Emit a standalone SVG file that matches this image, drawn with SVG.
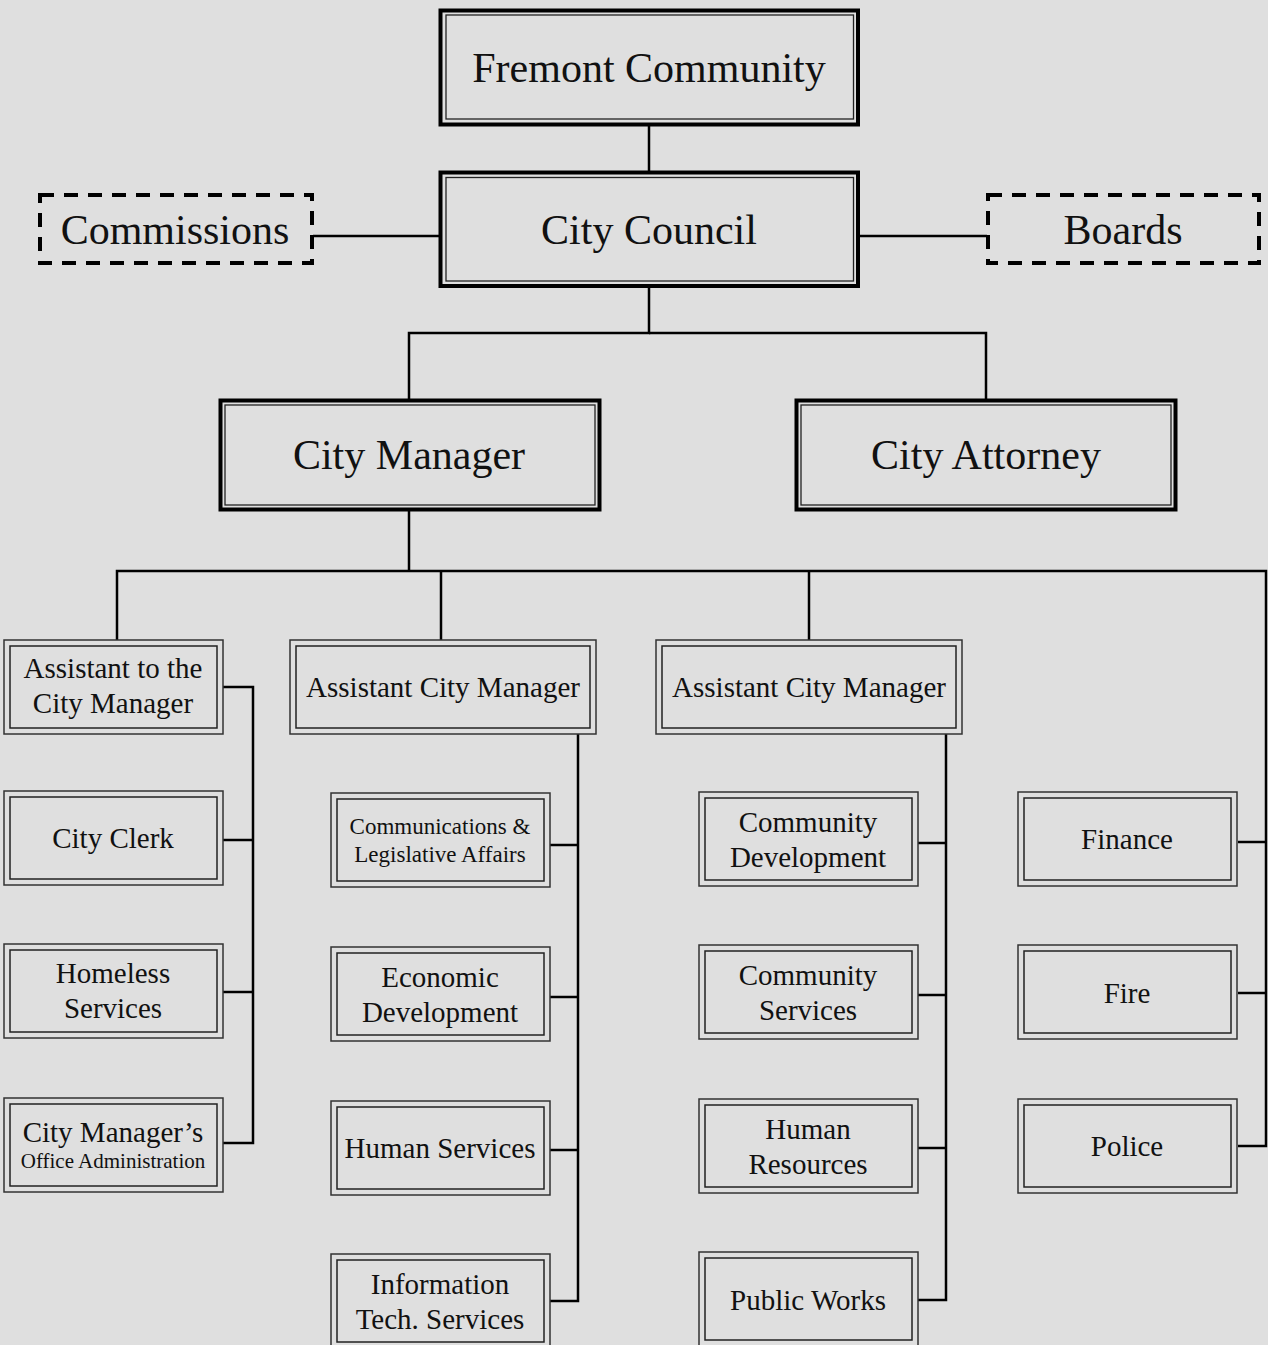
<svg xmlns="http://www.w3.org/2000/svg" width="1268" height="1345" viewBox="0 0 1268 1345">
<style>
.bg{fill:#dfdfdf}
.bo{fill:none;stroke:#000;stroke-width:4}
.bi{fill:none;stroke:#222;stroke-width:1.3}
.so{fill:#dfdfdf;stroke:#333;stroke-width:1.5}
.si{fill:none;stroke:#222;stroke-width:1.5}
.dash{fill:none;stroke:#000;stroke-width:4;stroke-dasharray:14 10}
.c{fill:none;stroke:#000;stroke-width:2.5}
text{fill:#111;text-anchor:middle}
.t42{font-size:42px}
.t29{font-size:29px}
.t23{font-size:23px}
.t21{font-size:21px}
</style>
<rect class="bg" x="0" y="0" width="1268" height="1345"/>
<g id="connectors">
<path class="c" d="M649 125V172"/>
<path class="c" d="M313 236H440"/>
<path class="c" d="M858 236H987"/>
<path class="c" d="M649 288V333H409V400"/>
<path class="c" d="M649 333H986V400"/>
<path class="c" d="M409 511V571"/>
<path class="c" d="M117 640V571H1266V1146H1238"/>
<path class="c" d="M441 571V640"/>
<path class="c" d="M809 571V640"/>
<path class="c" d="M1238 842H1266"/>
<path class="c" d="M1238 993H1266"/>
<path class="c" d="M223 687H253V1143H223"/>
<path class="c" d="M223 840H253"/>
<path class="c" d="M223 992H253"/>
<path class="c" d="M578 734V1301H550"/>
<path class="c" d="M550 845H578"/>
<path class="c" d="M550 997H578"/>
<path class="c" d="M550 1150H578"/>
<path class="c" d="M946 734V1300H918"/>
<path class="c" d="M918 843H946"/>
<path class="c" d="M918 995H946"/>
<path class="c" d="M918 1148H946"/>
</g>
<g font-family="Liberation Serif, Times New Roman, Tinos, DejaVu Serif, serif">
<g id="fremont-community">
<rect class="bo" x="440.5" y="10.5" width="417.5" height="114"/>
<rect class="bi" x="446" y="15" width="407.5" height="104"/>
<text class="t42" x="649" y="82">Fremont Community</text>
</g>
<g id="city-council">
<rect class="bo" x="440.5" y="172.5" width="417.5" height="113.5"/>
<rect class="bi" x="446" y="177.5" width="407.5" height="103.5"/>
<text class="t42" x="649" y="244">City Council</text>
</g>
<g id="commissions">
<rect class="dash" x="40" y="195" width="272" height="68"/>
<text class="t42" x="175" y="244">Commissions</text>
</g>
<g id="boards">
<rect class="dash" x="988" y="195" width="271" height="68"/>
<text class="t42" x="1123" y="244">Boards</text>
</g>
<g id="city-manager">
<rect class="bo" x="220.5" y="400.5" width="379" height="109"/>
<rect class="bi" x="225" y="405" width="370" height="100"/>
<text class="t42" x="409" y="469">City Manager</text>
</g>
<g id="city-attorney">
<rect class="bo" x="796.5" y="400.5" width="379" height="109"/>
<rect class="bi" x="801" y="405" width="370" height="100"/>
<text class="t42" x="986" y="469">City Attorney</text>
</g>
<g id="assistant-to-cm">
<rect class="so" x="4" y="640" width="219" height="94"/>
<rect class="si" x="10" y="646" width="207" height="82"/>
<text class="t29" x="113" y="678">Assistant to the</text>
<text class="t29" x="113" y="713">City Manager</text>
</g>
<g id="city-clerk">
<rect class="so" x="4" y="791" width="219" height="94"/>
<rect class="si" x="10" y="797" width="207" height="82"/>
<text class="t29" x="113" y="848">City Clerk</text>
</g>
<g id="homeless-services">
<rect class="so" x="4" y="944" width="219" height="94"/>
<rect class="si" x="10" y="950" width="207" height="82"/>
<text class="t29" x="113" y="983">Homeless</text>
<text class="t29" x="113" y="1018">Services</text>
</g>
<g id="cm-office-admin">
<rect class="so" x="4" y="1098" width="219" height="94"/>
<rect class="si" x="10" y="1104" width="207" height="82"/>
<text class="t29" x="113" y="1142">City Manager’s</text>
<text class="t21" x="113" y="1168">Office Administration</text>
</g>
<g id="acm-1">
<rect class="so" x="290" y="640" width="306" height="94"/>
<rect class="si" x="296" y="646" width="294" height="82"/>
<text class="t29" x="443" y="697">Assistant City Manager</text>
</g>
<g id="communications">
<rect class="so" x="331" y="793" width="219" height="94"/>
<rect class="si" x="337" y="799" width="207" height="82"/>
<text class="t23" x="440" y="834">Communications &amp;</text>
<text class="t23" x="440" y="862">Legislative Affairs</text>
</g>
<g id="economic-development">
<rect class="so" x="331" y="947" width="219" height="94"/>
<rect class="si" x="337" y="953" width="207" height="82"/>
<text class="t29" x="440" y="987">Economic</text>
<text class="t29" x="440" y="1022">Development</text>
</g>
<g id="human-services">
<rect class="so" x="331" y="1101" width="219" height="94"/>
<rect class="si" x="337" y="1107" width="207" height="82"/>
<text class="t29" x="440" y="1158">Human Services</text>
</g>
<g id="information-tech">
<rect class="so" x="331" y="1254" width="219" height="94"/>
<rect class="si" x="337" y="1260" width="207" height="82"/>
<text class="t29" x="440" y="1294">Information</text>
<text class="t29" x="440" y="1329">Tech. Services</text>
</g>
<g id="acm-2">
<rect class="so" x="656" y="640" width="306" height="94"/>
<rect class="si" x="662" y="646" width="294" height="82"/>
<text class="t29" x="809" y="697">Assistant City Manager</text>
</g>
<g id="community-development">
<rect class="so" x="699" y="792" width="219" height="94"/>
<rect class="si" x="705" y="798" width="207" height="82"/>
<text class="t29" x="808" y="832">Community</text>
<text class="t29" x="808" y="867">Development</text>
</g>
<g id="community-services">
<rect class="so" x="699" y="945" width="219" height="94"/>
<rect class="si" x="705" y="951" width="207" height="82"/>
<text class="t29" x="808" y="985">Community</text>
<text class="t29" x="808" y="1020">Services</text>
</g>
<g id="human-resources">
<rect class="so" x="699" y="1099" width="219" height="94"/>
<rect class="si" x="705" y="1105" width="207" height="82"/>
<text class="t29" x="808" y="1139">Human</text>
<text class="t29" x="808" y="1174">Resources</text>
</g>
<g id="public-works">
<rect class="so" x="699" y="1252" width="219" height="94"/>
<rect class="si" x="705" y="1258" width="207" height="82"/>
<text class="t29" x="808" y="1310">Public Works</text>
</g>
<g id="finance">
<rect class="so" x="1018" y="792" width="219" height="94"/>
<rect class="si" x="1024" y="798" width="207" height="82"/>
<text class="t29" x="1127" y="849">Finance</text>
</g>
<g id="fire">
<rect class="so" x="1018" y="945" width="219" height="94"/>
<rect class="si" x="1024" y="951" width="207" height="82"/>
<text class="t29" x="1127" y="1003">Fire</text>
</g>
<g id="police">
<rect class="so" x="1018" y="1099" width="219" height="94"/>
<rect class="si" x="1024" y="1105" width="207" height="82"/>
<text class="t29" x="1127" y="1156">Police</text>
</g>
</g>
</svg>
